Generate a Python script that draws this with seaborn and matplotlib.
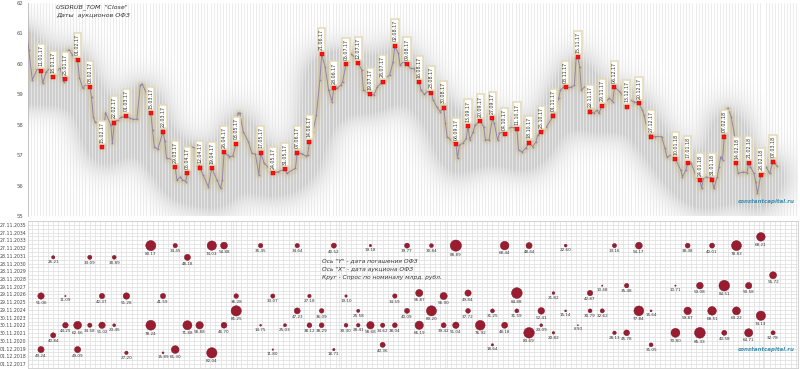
import numpy as np
import pandas as pd
import seaborn as sns
import matplotlib.pyplot as plt
import matplotlib.dates as mdates
import matplotlib.ticker as mticker
from matplotlib.figure import Figure
from matplotlib.backends.backend_agg import FigureCanvasAgg

# USDRUB_TOM close
usd_dates = [
    "2017-01-03", "2017-01-04", "2017-01-06", "2017-01-09", "2017-01-11", "2017-01-12", "2017-01-14",
    "2017-01-16", "2017-01-18", "2017-01-20", "2017-01-22", "2017-01-24", "2017-01-25", "2017-01-26",
    "2017-01-27", "2017-01-29", "2017-01-31", "2017-02-01", "2017-02-02", "2017-02-04", "2017-02-06",
    "2017-02-08", "2017-02-09", "2017-02-10", "2017-02-11", "2017-02-13", "2017-02-14", "2017-02-15",
    "2017-02-16", "2017-02-17", "2017-02-20", "2017-02-21", "2017-02-22", "2017-02-24", "2017-02-26",
    "2017-03-01", "2017-03-03", "2017-03-05", "2017-03-07", "2017-03-09", "2017-03-10", "2017-03-13",
    "2017-03-15", "2017-03-16", "2017-03-17", "2017-03-19", "2017-03-22", "2017-03-23", "2017-03-24",
    "2017-03-27", "2017-03-29", "2017-03-30", "2017-04-01", "2017-04-02", "2017-04-04", "2017-04-05",
    "2017-04-07", "2017-04-10", "2017-04-12", "2017-04-14", "2017-04-17", "2017-04-19", "2017-04-22",
    "2017-04-24", "2017-04-25", "2017-04-26", "2017-04-28", "2017-04-29", "2017-05-01", "2017-05-03",
    "2017-05-04", "2017-05-05", "2017-05-07", "2017-05-10", "2017-05-12", "2017-05-14", "2017-05-16",
    "2017-05-17", "2017-05-19", "2017-05-21", "2017-05-24", "2017-05-27", "2017-05-31", "2017-06-01",
    "2017-06-06", "2017-06-07", "2017-06-10", "2017-06-12", "2017-06-13", "2017-06-14", "2017-06-16",
    "2017-06-18", "2017-06-20", "2017-06-21", "2017-06-23", "2017-06-25", "2017-06-27", "2017-06-28",
    "2017-06-30", "2017-07-02", "2017-07-03", "2017-07-05", "2017-07-06", "2017-07-08", "2017-07-10",
    "2017-07-12", "2017-07-14", "2017-07-15", "2017-07-17", "2017-07-18", "2017-07-19", "2017-07-21",
    "2017-07-23", "2017-07-25", "2017-07-26", "2017-07-28", "2017-07-30", "2017-08-01", "2017-08-02",
    "2017-08-04", "2017-08-05", "2017-08-07", "2017-08-09", "2017-08-11", "2017-08-13", "2017-08-16",
    "2017-08-17", "2017-08-19", "2017-08-21", "2017-08-23", "2017-08-24", "2017-08-26", "2017-08-28",
    "2017-08-30", "2017-08-31", "2017-09-01", "2017-09-03", "2017-09-06", "2017-09-07", "2017-09-08",
    "2017-09-10", "2017-09-12", "2017-09-13", "2017-09-14", "2017-09-16", "2017-09-17", "2017-09-20",
    "2017-09-22", "2017-09-23", "2017-09-25", "2017-09-27", "2017-09-28", "2017-09-30", "2017-10-01",
    "2017-10-03", "2017-10-04", "2017-10-06", "2017-10-09", "2017-10-11", "2017-10-12", "2017-10-14",
    "2017-10-16", "2017-10-18", "2017-10-20", "2017-10-22", "2017-10-23", "2017-10-25", "2017-10-28",
    "2017-11-01", "2017-11-04", "2017-11-05", "2017-11-07", "2017-11-08", "2017-11-11", "2017-11-13",
    "2017-11-14", "2017-11-15", "2017-11-16", "2017-11-17", "2017-11-19", "2017-11-21", "2017-11-22",
    "2017-11-24", "2017-11-26", "2017-11-27", "2017-11-29", "2017-12-03", "2017-12-05", "2017-12-06",
    "2017-12-09", "2017-12-11", "2017-12-13", "2017-12-15", "2017-12-17", "2017-12-20", "2017-12-22",
    "2017-12-23", "2017-12-24", "2017-12-27", "2017-12-29", "2018-01-02", "2018-01-04", "2018-01-05",
    "2018-01-08", "2018-01-10", "2018-01-13", "2018-01-14", "2018-01-16", "2018-01-17", "2018-01-19",
    "2018-01-22", "2018-01-24", "2018-01-25", "2018-01-26", "2018-01-28", "2018-01-30", "2018-01-31",
    "2018-02-01", "2018-02-03", "2018-02-04", "2018-02-05", "2018-02-06", "2018-02-07", "2018-02-08",
    "2018-02-09", "2018-02-11", "2018-02-13", "2018-02-14", "2018-02-15", "2018-02-18", "2018-02-20",
    "2018-02-21", "2018-02-22", "2018-02-24", "2018-02-25", "2018-02-26", "2018-02-28", "2018-03-01",
    "2018-03-03", "2018-03-05", "2018-03-07", "2018-03-08", "2018-03-09",
]
usd_close = [
    61.00, 60.46, 59.47, 59.85, 59.77, 59.37, 59.74,
    59.85, 59.56, 59.80, 59.85, 59.41, 59.50, 60.40,
    60.46, 60.30, 60.20, 60.13, 59.55, 59.20, 59.34,
    59.23, 58.90, 58.26, 58.10, 58.05, 57.99, 57.26,
    57.80, 58.40, 58.00, 57.40, 58.07, 58.16, 58.24,
    58.29, 58.21, 58.18, 58.18, 59.30, 59.34, 58.98,
    58.37, 57.83, 57.28, 57.19, 57.77, 57.47, 56.90,
    56.86, 56.60, 56.18, 56.29, 56.20, 56.13, 56.40,
    57.28, 57.22, 56.59, 56.35, 55.96, 56.57, 56.18,
    55.91, 56.18, 57.09, 57.00, 56.95, 56.97, 57.37,
    58.38, 58.39, 57.77, 57.44, 57.06, 57.04, 56.35,
    57.08, 56.73, 56.62, 56.40, 56.46, 56.53, 56.40,
    56.57, 57.08, 57.04, 56.97, 57.00, 57.44, 57.77,
    58.32, 59.47, 60.31, 59.91, 59.14, 58.76, 59.20,
    59.20, 59.30, 59.41, 59.99, 60.40, 60.32, 60.22,
    60.02, 59.80, 59.14, 59.09, 59.23, 59.00, 58.98,
    59.25, 59.36, 59.41, 59.56, 59.63, 60.07, 60.59,
    60.35, 59.96, 60.07, 59.99, 59.85, 59.85, 59.39,
    59.14, 59.00, 59.10, 59.05, 58.81, 58.59, 58.43,
    58.56, 58.05, 57.61, 57.50, 57.36, 56.90, 57.33,
    57.39, 57.55, 57.96, 57.50, 57.77, 57.99, 58.12,
    57.93, 57.50, 57.50, 58.21, 58.05, 57.50, 57.72,
    57.77, 57.68, 57.88, 57.93, 57.86, 57.17, 57.11,
    57.22, 57.41, 57.28, 57.44, 57.66, 57.75, 57.93,
    58.30, 58.87, 59.14, 59.25, 59.23, 59.23, 59.30,
    60.18, 60.22, 59.91, 59.14, 59.25, 59.14, 58.43,
    58.38, 58.48, 58.38, 58.62, 58.87, 58.76, 59.23,
    59.09, 58.92, 58.59, 58.81, 58.76, 58.70, 58.48,
    58.32, 58.05, 57.61, 57.61, 57.61, 57.22, 56.95,
    57.00, 56.87, 56.51, 56.29, 56.51, 56.75, 56.73,
    56.29, 56.18, 55.91, 56.24, 56.29, 56.29, 56.20,
    55.91, 56.29, 56.62, 56.95, 56.84, 57.61, 58.48,
    58.54, 58.26, 57.61, 56.73, 56.40, 56.45, 56.42,
    56.75, 56.62, 56.40, 56.13, 55.75, 56.35, 56.40,
    56.62, 56.40, 56.79, 56.73, 56.65,
]

# OFZ auction dates (red points on the line)
auction_dates = [
    "2017-01-11", "2017-01-18", "2017-01-25", "2017-02-01", "2017-02-08", "2017-02-15", "2017-02-22",
    "2017-03-01", "2017-03-15", "2017-03-22", "2017-03-29", "2017-04-05", "2017-04-12", "2017-04-19",
    "2017-04-26", "2017-05-03", "2017-05-17", "2017-05-24", "2017-05-31", "2017-06-07", "2017-06-14",
    "2017-06-21", "2017-06-28", "2017-07-05", "2017-07-12", "2017-07-19", "2017-07-26", "2017-08-02",
    "2017-08-09", "2017-08-16", "2017-08-23", "2017-08-30", "2017-09-06", "2017-09-13", "2017-09-20",
    "2017-09-27", "2017-10-04", "2017-10-11", "2017-10-18", "2017-10-25", "2017-11-01", "2017-11-08",
    "2017-11-15", "2017-11-22", "2017-11-29", "2017-12-06", "2017-12-13", "2017-12-20", "2017-12-27",
    "2018-01-10", "2018-01-17", "2018-01-24", "2018-01-31", "2018-02-07", "2018-02-14", "2018-02-21",
    "2018-02-28", "2018-03-07",
]

# bubbles: auction date, bond maturity date, demand (bln rub)
bub_auction = [
    "2017-01-18", "2017-02-08", "2017-02-22", "2017-03-15", "2017-03-29", "2017-04-05",
    "2017-01-11", "2017-01-25", "2017-02-15", "2017-03-01", "2017-03-22",
    "2017-01-11", "2017-01-18", "2017-01-25", "2017-02-01", "2017-02-08", "2017-02-15", "2017-02-22",
    "2017-02-01", "2017-03-01", "2017-03-15", "2017-03-22", "2017-03-29", "2017-04-05", "2017-04-12",
    "2017-04-19", "2017-04-26", "2017-05-17", "2017-06-07", "2017-06-28", "2017-07-19",
    "2017-05-03", "2017-05-24", "2017-06-14", "2017-07-05", "2017-08-02",
    "2017-05-03", "2017-06-07", "2017-06-21", "2017-07-12",
    "2017-04-26", "2017-05-17", "2017-05-31", "2017-06-14", "2017-06-21", "2017-07-05", "2017-07-12",
    "2017-07-19", "2017-07-26", "2017-08-02",
    "2017-04-19", "2017-05-24", "2017-06-28", "2017-07-26",
    "2017-08-09", "2017-08-23", "2017-09-06", "2017-10-04", "2017-10-18", "2017-11-08",
    "2017-08-16", "2017-08-30", "2017-09-13", "2017-10-11", "2017-11-01", "2017-11-22",
    "2017-08-09", "2017-08-23", "2017-09-13", "2017-09-27", "2017-10-11", "2017-10-25", "2017-11-08",
    "2017-11-22",
    "2017-08-16", "2017-08-30", "2017-09-06", "2017-09-20", "2017-10-04", "2017-10-25",
    "2017-10-18", "2017-11-01", "2017-11-15", "2017-09-27",
    "2017-12-06", "2017-12-20", "2018-01-17", "2018-01-31", "2018-02-14", "2018-02-28", "2018-03-07",
    "2017-11-29", "2017-12-13", "2018-01-10", "2018-01-24", "2018-02-07", "2018-02-21",
    "2017-11-29", "2017-12-20", "2017-12-27", "2018-01-17", "2018-01-31", "2018-02-14", "2018-02-28",
    "2017-12-06", "2017-12-13", "2017-12-27", "2018-01-10", "2018-01-24", "2018-02-07", "2018-02-21",
    "2018-03-07",
]
bub_maturity = [
    "2031-09-17", "2031-09-17", "2031-09-17", "2033-03-23", "2033-03-23", "2031-09-17",
    "2026-09-16", "2026-09-16", "2026-09-16", "2026-09-16", "2026-09-16",
    "2019-10-16", "2021-08-18", "2022-12-07", "2022-12-07", "2022-12-07", "2022-12-07", "2022-12-07",
    "2019-10-16", "2019-05-15", "2022-12-07", "2019-05-15", "2019-10-16", "2022-12-07", "2022-12-07",
    "2033-03-23", "2033-03-23", "2033-03-23", "2033-03-23", "2033-03-23", "2033-03-23",
    "2026-09-16", "2026-09-16", "2026-09-16", "2026-09-16", "2026-09-16",
    "2024-10-16", "2024-10-16", "2024-10-16", "2024-10-16",
    "2022-12-07", "2022-12-07", "2022-12-07", "2022-12-07", "2022-12-07", "2022-12-07", "2022-12-07",
    "2022-12-07", "2022-12-07", "2022-12-07",
    "2019-05-15", "2019-10-16", "2019-10-16", "2020-05-27",
    "2033-03-23", "2033-03-23", "2033-03-23", "2033-03-23", "2033-03-23", "2033-03-23",
    "2027-02-03", "2026-09-16", "2027-02-03", "2027-02-03", "2027-02-03", "2027-02-03",
    "2024-10-16", "2024-10-16", "2024-10-16", "2024-10-16", "2024-10-16", "2024-10-16", "2024-10-16",
    "2024-10-16",
    "2022-12-07", "2022-12-07", "2022-12-07", "2022-12-07", "2022-12-07", "2022-12-07",
    "2021-12-15", "2021-12-15", "2022-12-07", "2020-05-27",
    "2033-03-23", "2033-03-23", "2033-03-23", "2033-03-23", "2033-03-23", "2034-05-10", "2029-05-23",
    "2028-01-19", "2028-01-19", "2028-01-19", "2028-01-19", "2028-01-19", "2028-01-19",
    "2024-10-16", "2024-10-16", "2024-10-16", "2024-10-16", "2024-10-16", "2024-10-16", "2024-02-28",
    "2021-12-15", "2021-12-15", "2020-05-27", "2021-12-15", "2021-12-15", "2021-12-15", "2021-12-15",
    "2021-12-15",
]
bub_demand = [
    26.21, 33.09, 30.89, 80.17, 34.45, 48.18,
    51.06, 11.09, 42.37, 51.28, 41.59,
    49.24, 40.84, 44.25, 62.56, 34.58, 51.02, 23.45,
    49.09, 27.20, 78.24, 15.89, 61.30, 71.88, 58.88,
    74.03, 54.88, 35.45, 34.64, 40.52, 19.18,
    36.28, 33.07, 27.18, 19.10, 34.59,
    81.25, 47.23, 36.09, 25.58,
    46.70, 14.75, 25.03, 38.12, 38.29, 30.30, 28.41,
    58.68, 34.62, 38.04,
    82.04, 11.80, 18.71, 40.36,
    39.77, 30.84, 88.89, 68.44, 48.44, 22.60,
    56.87, 56.90, 49.84, 84.88, 21.82, 42.87,
    40.09, 80.20, 37.72, 31.25, 31.59, 52.41, 15.14,
    30.79,
    66.19, 39.42, 51.04, 76.92, 48.18, 23.09,
    83.69, 20.82, 8.90, 18.64,
    33.16, 54.17, 38.48, 40.01, 78.83, 68.21, 55.72,
    10.48, 35.48, 10.71, 53.08, 84.51, 50.58,
    32.62, 77.84, 15.64, 59.87, 68.51, 63.22, 74.13,
    28.13, 45.78, 31.05, 70.80, 85.33, 40.58, 64.71,
    32.78,
]

sns.set_theme(style="white")
plt.rcParams["font.family"] = ["DejaVu Sans"]

usd = pd.Series(usd_close, index=pd.to_datetime(usd_dates))
auct = pd.to_datetime(auction_dates)
auct_vals = usd.loc[auct].values

bubbles = pd.DataFrame({
    "auction": pd.to_datetime(bub_auction),
    "maturity": pd.to_datetime(bub_maturity),
    "demand": bub_demand,
})
# bubble diameter grows with demand (Excel "width" sizing)
r_pt = 0.063 * bubbles["demand"] * 0.72
bubbles["s"] = (2 * r_pt) ** 2

x_left = pd.Timestamp("2017-01-11") - pd.Timedelta(days=7.46)
x_right = pd.Timestamp("2017-01-11") + pd.Timedelta(days=434.3)
top_pos = [0.035, 0.4146, 0.9625, 0.5772]


def blurred_line(width, sigma, shift_px):
    # draw the line off-screen at the panel's pixel size, then blur it
    pad = int(np.ceil(3 * sigma))
    w_in, h_in = 8 * top_pos[2], 3.69 * top_pos[3]
    f = Figure(figsize=(w_in, h_in), dpi=100)
    FigureCanvasAgg(f)
    a = f.add_axes([0, 0, 1, 1])
    a.plot(usd.index, usd.values, color="black", lw=width,
           solid_joinstyle="round", solid_capstyle="round")
    a.set_xlim(x_left, x_right)
    a.set_ylim(55, 62)
    a.axis("off")
    f.canvas.draw()
    m = 1 - np.asarray(f.canvas.buffer_rgba())[:, :, 0].astype(float) / 255
    if shift_px:
        m = np.roll(m, shift_px, axis=0)
        m[:shift_px] = 0
    m = np.pad(m, pad, mode="edge")
    k = np.arange(-pad, pad + 1)
    k = np.exp(-k ** 2 / (2 * sigma ** 2))
    k /= k.sum()
    m = np.apply_along_axis(lambda r: np.convolve(r, k, mode="same"), 0, m)
    m = np.apply_along_axis(lambda r: np.convolve(r, k, mode="same"), 1, m)
    return m[pad:-pad, pad:-pad]


fig = plt.figure(figsize=(8, 3.69), dpi=100)
fig.patch.set_facecolor("white")

# ---------------- upper panel: USDRUB line ----------------
ax1 = fig.add_axes(top_pos)
ax1.set_xlim(x_left, x_right)
ax1.set_ylim(55, 62)
ext = [mdates.date2num(x_left), mdates.date2num(x_right), 55, 62]

# soft grey drop shadow, drawn under the grid
shadow = blurred_line(11, 15, 9)
rgba = np.zeros(shadow.shape + (4,))
rgba[..., :3] = 0.5
rgba[..., 3] = np.clip(shadow * 1.35, 0, 0.38)
ax1.imshow(rgba, extent=ext, aspect="auto", origin="upper", zorder=0.2, interpolation="bilinear")

# thin khaki glow right around the line
halo = blurred_line(3, 1.8, 1)
rgba2 = np.zeros(halo.shape + (4,))
rgba2[..., 0], rgba2[..., 1], rgba2[..., 2] = 0.80, 0.74, 0.52
rgba2[..., 3] = np.clip(halo * 0.9, 0, 0.45)
ax1.imshow(rgba2, extent=ext, aspect="auto", origin="upper", zorder=2, interpolation="bilinear")

sns.lineplot(x=usd.index, y=usd.values, ax=ax1, color="#9185ad", lw=0.7,
             marker="o", markersize=1.3, markeredgewidth=0, zorder=3)
sns.scatterplot(x=auct, y=auct_vals, ax=ax1, color="#ff1010", marker="s", s=5,
                edgecolor="#d00000", linewidth=0.3, zorder=5, legend=False)

for d, v in zip(auct, auct_vals):
    ax1.annotate(d.strftime("%d.%m.%y"), (d, v), xytext=(0, 3.2), textcoords="offset points",
                 rotation=90, ha="center", va="bottom", fontsize=3.4, color="#333333", zorder=6,
                 bbox=dict(boxstyle="square,pad=0.25", fc="white", ec="#e3dab6", lw=1.1))

ax1.set_xlim(x_left, x_right)
ax1.set_ylim(55, 62)
ax1.yaxis.set_major_locator(mticker.MultipleLocator(1))
ax1.xaxis.set_minor_locator(mticker.MultipleLocator(1.75))
ax1.grid(which="minor", axis="x", color="#e9e9e9", lw=0.6, zorder=0.5)
ax1.grid(which="major", axis="x", visible=False)
ax1.set_axisbelow(True)
ax1.tick_params(axis="x", which="both", length=0, labelbottom=False)
ax1.tick_params(axis="y", length=1.5, width=0.5, color="#aaaaaa", pad=1.5,
                labelsize=3.8, labelcolor="#555555")
for side in ["top", "right", "bottom"]:
    ax1.spines[side].set_visible(False)
ax1.spines["left"].set_color("#bbbbbb")
ax1.spines["left"].set_linewidth(0.6)
ax1.set_xlabel("")
ax1.set_ylabel("")

fig.text(56 / 800, 1 - 7 / 369, 'USDRUB_TOM  "Close"', fontsize=4.6, style="italic",
         color="#333333", va="center")
fig.text(56 / 800, 1 - 15.5 / 369, "Даты  аукционов ОФЗ", fontsize=4.6, style="italic",
         color="#333333", va="center")
fig.text(766 / 800, 1 - 201.5 / 369, "constantcapital.ru", fontsize=4.0, style="italic",
         weight="bold", color="#3b8fb0", ha="center", va="center")

# ---------------- lower panel: OFZ bubbles ----------------
y_base = pd.Timestamp("2017-12-01")
ax2 = fig.add_axes([0.035, 1 - 368 / 369, 0.9625, 147 / 369])
ax2.set_xlim(x_left, x_right)
ax2.set_ylim(y_base - pd.Timedelta(days=186), y_base + pd.Timedelta(days=6664))

sns.scatterplot(data=bubbles, x="auction", y="maturity", s=bubbles["s"], ax=ax2,
                color="#9a1c30", edgecolor="#6c0e1e", linewidth=0.3, legend=False, zorder=3)

for a, m, v, r in zip(bubbles["auction"], bubbles["maturity"], bubbles["demand"], r_pt):
    ax2.annotate(f"{v:.2f}", (a, m), xytext=(0, -(r + 1.0)), textcoords="offset points",
                 ha="center", va="top", fontsize=3.0, color="#333333", zorder=4)

yticks = [y_base + pd.Timedelta(days=365 * k) for k in range(19)]
ax2.set_yticks(yticks)
ax2.yaxis.set_major_formatter(mdates.DateFormatter("%d.%m.%Y"))
ax2.set_yticks([y_base + pd.Timedelta(days=365 * k + 182) for k in range(19)], minor=True)
ax2.xaxis.set_minor_locator(mticker.MultipleLocator(3))
ax2.grid(which="both", color="#dddddd", lw=0.5)
ax2.set_axisbelow(True)
ax2.tick_params(axis="x", which="both", length=0, labelbottom=False)
ax2.tick_params(axis="y", which="both", length=0, pad=1, labelsize=3.3, labelcolor="#444444")
for side in ax2.spines:
    ax2.spines[side].set_color("#cccccc")
    ax2.spines[side].set_linewidth(0.6)
ax2.set_xlabel("")
ax2.set_ylabel("")

notes = ['Ось "Y" - дата погашения ОФЗ', 'Ось "X" - дата аукциона ОФЗ',
         "Круг - Спрос по номиналу млрд. рубл."]
for i, t in enumerate(notes):
    fig.text(322 / 800, 1 - (261 + 8.5 * i) / 369, t, fontsize=4.3, style="italic",
             color="#333333", va="center")
fig.text(766 / 800, 1 - 349 / 369, "constantcapital.ru", fontsize=4.0, style="italic",
         weight="bold", color="#3b8fb0", ha="center", va="center")

fig.savefig("out.png", dpi=100, facecolor="white")
